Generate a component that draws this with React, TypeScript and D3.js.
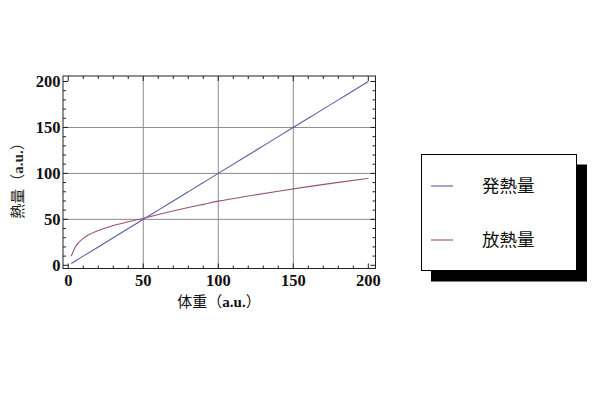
import React from "react";
import * as d3 from "d3";

const bodyWeight = [2, 5, 10, 20, 30, 40, 50, 60, 70, 80, 90, 100, 120, 140, 160, 180, 200];
const heatProduction = [2, 5, 10, 20, 30, 40, 50, 60, 70, 80, 90, 100, 120, 140, 160, 180, 200];
const heatLoss = [10, 20.8, 29.2, 37.8, 43.2, 47.4, 51, 55.2, 59.1, 62.8, 66.3, 69.8, 75.4, 80.6, 85.6, 90.2, 94.5];
const majorTicks = [0, 50, 100, 150, 200];
const gridTicks = [50, 100, 150];
const minorTicks = d3.range(0, 201, 10);
const seriesNames = ["発熱量", "放熱量"];
const seriesColors = ["#5c5ca2", "#98507e"];

export default function App() {
  const x = d3.scaleLinear().domain([-3.5, 204.8]).range([63, 375.5]);
  const y = d3.scaleLinear().domain([-3.5, 206]).range([268.5, 76]);
  const [x0, x1] = x.range();
  const [y0, y1] = y.range();

  const line = d3
    .line<number>()
    .x((_, i) => x(bodyWeight[i]))
    .curve(d3.curveMonotoneX);
  const pathProd = line.y((d) => y(d))(heatProduction) as string;
  const pathLoss = line.y((d) => y(d))(heatLoss) as string;

  const serif = "'Liberation Serif', 'Times New Roman', serif";
  const cjk = "'Noto Sans CJK JP', sans-serif";

  return (
    <svg
      width={600}
      height={400}
      style={{ position: "absolute", left: 0, top: 0, background: "#fff" }}
    >
      <rect x={0} y={0} width={600} height={400} fill="#fff" />
      {/* grid */}
      {gridTicks.map((t) => (
        <line key={"gx" + t} x1={x(t)} x2={x(t)} y1={y0} y2={y1} stroke="#8a8a8a" strokeWidth={1} />
      ))}
      {gridTicks.map((t) => (
        <line key={"gy" + t} x1={x0} x2={x1} y1={y(t)} y2={y(t)} stroke="#8a8a8a" strokeWidth={1} />
      ))}
      {/* minor/major ticks on all four sides */}
      {minorTicks.map((t) => {
        const len = t % 50 === 0 ? 5 : 3;
        return (
          <g key={"t" + t} stroke="#222" strokeWidth={1}>
            <line x1={x(t)} x2={x(t)} y1={y0} y2={y0 - len} />
            <line x1={x(t)} x2={x(t)} y1={y1} y2={y1 + len} />
            <line x1={x0} x2={x0 + len} y1={y(t)} y2={y(t)} />
            <line x1={x1} x2={x1 - len} y1={y(t)} y2={y(t)} />
          </g>
        );
      })}
      {/* curves */}
      <path d={pathProd} fill="none" stroke={seriesColors[0]} strokeWidth={1.1} />
      <path d={pathLoss} fill="none" stroke={seriesColors[1]} strokeWidth={1.1} />
      {/* frame */}
      <rect x={x0} y={y1} width={x1 - x0} height={y0 - y1} fill="none" stroke="#222" strokeWidth={1} />
      {/* tick labels */}
      {majorTicks.map((t) => (
        <text
          key={"xl" + t}
          x={x(t)}
          y={285.5}
          textAnchor="middle"
          fontFamily={serif}
          fontWeight="bold"
          fontSize={16.5}
          fill="#111"
        >
          {t}
        </text>
      ))}
      {majorTicks.map((t) => (
        <text
          key={"yl" + t}
          x={60.5}
          y={y(t)}
          dy="0.35em"
          textAnchor="end"
          fontFamily={serif}
          fontWeight="bold"
          fontSize={16.5}
          fill="#111"
        >
          {t}
        </text>
      ))}
      {/* axis titles */}
      <text x={219} y={307} textAnchor="middle" fontSize={15} fill="#111">
        <tspan fontFamily={cjk}>体重（</tspan>
        <tspan fontFamily={serif} fontWeight="bold">a.u.</tspan>
        <tspan fontFamily={cjk}>）</tspan>
      </text>
      <text
        transform="translate(23,177) rotate(-90)"
        textAnchor="middle"
        fontSize={15}
        fill="#222"
      >
        <tspan fontFamily={cjk}>熱量（</tspan>
        <tspan fontFamily={serif} fontWeight="bold">a.u.</tspan>
        <tspan fontFamily={cjk}>）</tspan>
      </text>
      {/* legend */}
      <rect x={431} y={164.5} width={156} height={117} fill="#000" />
      <rect x={421.5} y={154.5} width={155} height={116} fill="#fff" stroke="#000" strokeWidth={1} />
      {seriesNames.map((name, i) => (
        <g key={name}>
          <line
            x1={431}
            x2={453}
            y1={186 + i * 54}
            y2={186 + i * 54}
            stroke={seriesColors[i]}
            strokeWidth={1.1}
          />
          <text
            x={482}
            y={186 + i * 54}
            dy="0.36em"
            fontFamily={cjk}
            fontSize={17.5}
            fill="#111"
          >
            {name}
          </text>
        </g>
      ))}
    </svg>
  );
}
